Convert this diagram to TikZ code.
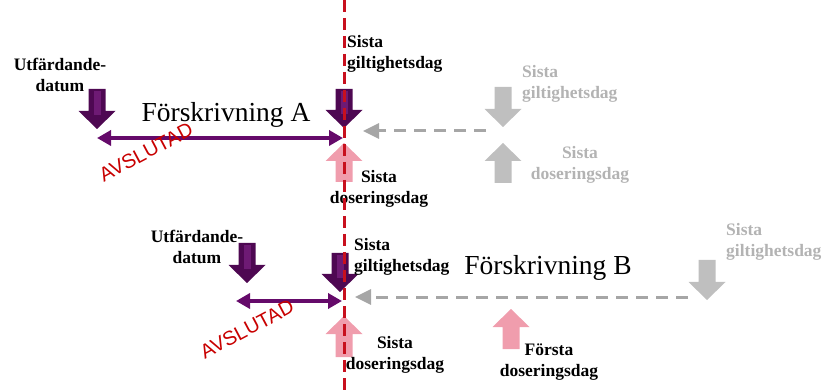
\documentclass[tikz,border=0pt]{standalone}
\usepackage{fontspec}
\setmainfont{Liberation Serif}
\newfontfamily\sansf{Liberation Sans}
\usetikzlibrary{arrows.meta}
\definecolor{purdark}{HTML}{4E0852}
\definecolor{purline}{HTML}{650A6A}
\definecolor{purlight}{HTML}{6E1A74}
\definecolor{redline}{HTML}{C8101E}
\definecolor{pinkarr}{HTML}{F09DAD}
\definecolor{grayarr}{HTML}{BFBFBF}
\definecolor{grayline}{HTML}{A6A6A6}
\definecolor{graytext}{HTML}{B3B3B3}
\definecolor{avred}{HTML}{C80000}
\newcommand\downblk[4]{%
  \fill[#4] (#1-8.5,#2) -- (#1+8.5,#2) -- (#1+8.5,#3-18) -- (#1+18.5,#3-18) -- (#1,#3) -- (#1-18.5,#3-18) -- (#1-8.5,#3-18) -- cycle;}
\newcommand\upblk[4]{%
  \fill[#4] (#1,#2) -- (#1+18.5,#2+18) -- (#1+8.5,#2+18) -- (#1+8.5,#3) -- (#1-8.5,#3) -- (#1-8.5,#2+18) -- (#1-18.5,#2+18) -- cycle;}
\newcommand\purpdown[3]{%
  \downblk{#1}{#2}{#3}{purdark}
  \fill[purlight] (#1-3.5,#2+2) rectangle (#1+3.5,#3-14);}
\tikzset{
  lbl/.style={font=\fontsize{17.5}{21}\selectfont\bfseries, inner sep=0pt, text=black},
  glbl/.style={lbl, text=graytext},
  title/.style={font=\fontsize{27.5}{30}\selectfont, inner sep=0pt, anchor=base},
  avsl/.style={font=\sansf\fontsize{20}{22}\selectfont, text=avred, rotate=28, inner sep=0pt},
  purparrow/.style={draw=purline, line width=3.5pt, {Triangle[length=14pt,width=15pt]}-{Triangle[length=14pt,width=15pt]}},
  grayarrow/.style={draw=grayline, line width=3pt, dash pattern=on 12pt off 8pt, -{Triangle[length=16pt,width=15pt]}},
  redline/.style={draw=redline, line width=3pt, dash pattern=on 12pt off 6pt}
}
\begin{document}
\begin{tikzpicture}[x=1pt,y=-1pt]
\useasboundingbox (0,0) rectangle (825,390);
% ---- top section (A)
\purpdown{97}{89}{129}
\purpdown{344}{89}{128}
\upblk{344}{143}{182}{pinkarr}
\downblk{503}{87}{127}{grayarr}
\upblk{503}{143}{183}{grayarr}
\coordinate (sA) at (97,138);
\coordinate (eA) at (343,138);
\draw[purparrow] (sA) -- (eA);
\coordinate (gA1) at (486,131);
\coordinate (gA2) at (363,131);
\draw[grayarrow] (gA1) -- (gA2);
\node[title] (titleA) at (226,122) {Förskrivning A};
\node[avsl] (avA) at (146,152) {AVSLUTAD};
\node[lbl, align=center] (utfA) at (60,75) {Utfärdande-\\datum};
\node[lbl, align=left, anchor=west] (gilA) at (347,53.5) {Sista\\giltighetsdag};
\node[lbl, align=center] (dosA) at (379,188.5) {Sista\\doseringsdag};
\node[glbl, align=left, anchor=west] (ggilA) at (522,83.5) {Sista\\giltighetsdag};
\node[glbl, align=center] (gdosA) at (580,164.5) {Sista\\doseringsdag};
% ---- bottom section (B)
\purpdown{247}{243}{283}
\purpdown{340}{253}{292}
\upblk{344}{316}{357}{pinkarr}
\upblk{511}{309}{349}{pinkarr}
\downblk{707}{260}{300}{grayarr}
\coordinate (sB) at (236,301);
\coordinate (eB) at (342,301);
\draw[purparrow] (sB) -- (eB);
\coordinate (gB1) at (688,297);
\coordinate (gB2) at (355,297);
\draw[grayarrow] (gB1) -- (gB2);
\node[title] (titleB) at (548,275) {Förskrivning B};
\node[avsl] (avB) at (247,329) {AVSLUTAD};
\node[lbl, align=center] (utfB) at (197,246.5) {Utfärdande-\\datum};
\node[lbl, align=left, anchor=west] (gilB) at (354,257) {Sista\\giltighetsdag};
\node[lbl, align=center] (dosB) at (395,355) {Sista\\doseringsdag};
\node[glbl, align=left, anchor=west] (ggilB) at (726,241.5) {Sista\\giltighetsdag};
\node[lbl, align=center] (forsta) at (549,362.5) {Första\\doseringsdag};
% ---- red dashed line
\coordinate (rTop) at (344,0);
\coordinate (rBot) at (344,390);
\draw[redline] (rTop) -- (rBot);
\end{tikzpicture}
\end{document}
